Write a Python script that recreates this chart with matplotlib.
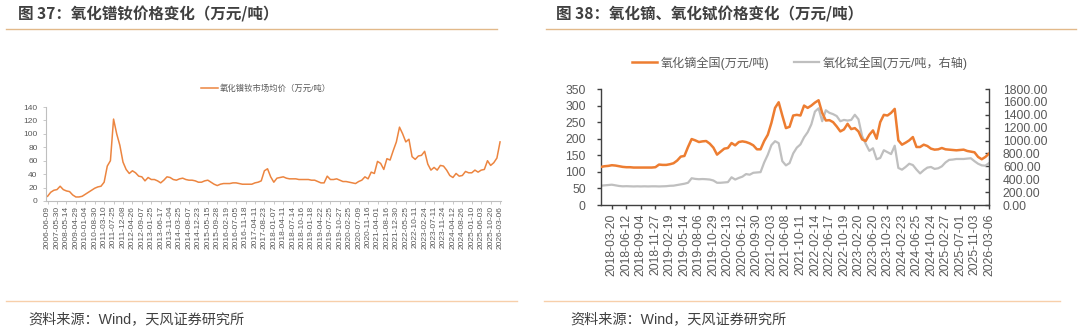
import matplotlib
matplotlib.use("Agg")
import matplotlib.pyplot as plt
from matplotlib.lines import Line2D
from matplotlib.ticker import FormatStrFormatter, MultipleLocator

plt.rcParams['font.family'] = ['Liberation Sans', 'Noto Sans CJK SC', 'DejaVu Sans']

# ---------------- Data: chart 37 (PrNd oxide) ----------------
prnd_labels = ["2006-06-09", "2007-05-30", "2008-05-14", "2009-04-29", "2010-01-04", "2010-08-30",
               "2011-03-10", "2011-07-25", "2011-12-08", "2012-04-26", "2012-09-07", "2013-01-25",
               "2013-06-17", "2013-11-04", "2014-03-25", "2014-08-07", "2014-12-23", "2015-05-15",
               "2015-09-28", "2016-02-19", "2016-07-05", "2016-11-18", "2017-04-11", "2017-08-23",
               "2018-01-07", "2018-04-11", "2018-07-14", "2018-10-16", "2019-01-18", "2019-04-22",
               "2019-07-25", "2019-10-27", "2020-02-25", "2020-07-09", "2020-11-16", "2021-04-01",
               "2021-08-16", "2021-12-30", "2022-05-25", "2022-10-11", "2023-02-24", "2023-07-11",
               "2023-11-24", "2024-04-12", "2024-08-26", "2025-01-10", "2025-06-03", "2025-10-20",
               "2026-03-06"]
prnd_price = [7, 13, 16, 17, 22, 17, 15, 14, 9, 6, 6, 7, 10, 13, 16, 19, 21, 22, 28, 52,
              60, 122, 100, 83, 58, 47, 41, 45, 42, 37, 36, 30, 35, 32, 32, 30, 27, 31, 36, 35,
              32, 31, 33, 34, 32, 31, 31, 30, 28, 28, 30, 31, 28, 25, 23, 25, 26, 26, 26, 27,
              27, 26, 25, 25, 25, 25, 27, 28, 30, 45, 48, 36, 28, 34, 35, 36, 34, 33, 33, 33,
              32, 32, 32, 32, 31, 31, 29, 27, 27, 37, 32, 32, 33, 31, 29, 29, 28, 27, 26, 29,
              31, 36, 33, 43, 41, 59, 56, 47, 63, 61, 75, 88, 110, 100, 88, 92, 66, 62, 67, 68,
              74, 55, 46, 50, 46, 53, 52, 46, 38, 35, 41, 37, 38, 44, 42, 42, 46, 43, 46, 47,
              60, 53, 57, 64, 88]
prnd_name = "氧化镨钕市场均价（万元/吨）"

# ---------------- Data: chart 38 (Dy / Tb oxide) ----------------
dytb_labels = ["2018-03-20", "2018-06-12", "2018-09-04", "2018-11-27", "2019-02-19", "2019-05-14",
               "2019-08-06", "2019-10-29", "2020-02-13", "2020-06-12", "2020-09-30", "2021-02-03",
               "2021-06-08", "2021-10-11", "2022-02-14", "2022-06-17", "2022-10-19", "2023-02-20",
               "2023-06-20", "2023-10-23", "2024-02-23", "2024-06-25", "2024-10-24", "2025-02-27",
               "2025-07-01", "2025-11-03", "2026-03-06"]
dy_price = [115, 117, 118, 120, 119, 117, 115, 114, 114, 113, 113, 113, 113, 113, 113, 114,
            122, 121, 121, 123, 126, 134, 146, 148, 175, 199, 195, 190, 192, 193, 185, 173,
            152, 161, 170, 172, 187, 180, 190, 192, 190, 186, 180, 168, 168, 193, 212, 248,
            293, 310, 270, 232, 236, 270, 272, 270, 300, 293, 300, 309, 316, 278, 255, 256,
            250, 237, 222, 228, 245, 229, 232, 222, 198, 193, 212, 225, 200, 250, 272, 270,
            278, 290, 195, 182, 188, 195, 205, 175, 175, 182, 178, 170, 167, 168, 172, 168,
            167, 166, 165, 166, 167, 163, 161, 159, 145, 138, 145, 155]
tb_price = [300, 305, 310, 315, 305, 295, 290, 292, 290, 288, 290, 288, 290, 288, 290, 290,
            288, 290, 292, 298, 300, 310, 320, 330, 345, 415, 405, 400, 403, 400, 395, 380,
            345, 345, 350, 355, 430, 395, 420, 440, 480, 470, 500, 505, 510, 660, 780, 930,
            990, 960, 680, 615, 650, 800, 890, 940, 1050, 1130, 1250, 1450, 1500, 1300, 1470, 1430,
            1410, 1380, 1300, 1320, 1310, 1320, 1400, 1330, 1070, 950, 840, 880, 710, 730, 850, 820,
            790, 920, 575, 548, 590, 640, 620, 550, 490, 540, 580, 590, 560, 570, 600, 660,
            700, 705, 714, 714, 714, 720, 725, 680, 640, 615, 610, 650]
dy_name = "氧化镝全国(万元/吨)"
tb_name = "氧化铽全国(万元/吨，右轴)"

# ---------------- Figure ----------------
W, H = 1080, 329
fig = plt.figure(figsize=(W / 100, H / 100), dpi=100)
fig.patch.set_facecolor("white")


def fx(x):
    return x / W


def fy(y):
    return 1 - y / H


ORANGE = "#ed7d31"
GRAY = "#bfbfbf"
TXT = "#404040"
TICK = "#595959"
CJK = ['Noto Sans CJK SC', 'DejaVu Sans']

# Titles and decorative lines
fig.text(fx(18), fy(14), "图 37：氧化镨钕价格变化（万元/吨）", family=CJK, fontsize=11.2,
         fontweight='bold', color=TXT, ha='left', va='center')
fig.text(fx(556), fy(14), "图 38：氧化镝、氧化铽价格变化（万元/吨）", family=CJK, fontsize=11.2,
         fontweight='bold', color=TXT, ha='left', va='center')
for x0, x1 in [(6, 497), (546, 1076)]:
    fig.add_artist(Line2D([fx(x0), fx(x1)], [fy(29), fy(29)], color="#e2b98a", lw=1.0))
for x0, x1 in [(6, 517), (544, 1060)]:
    fig.add_artist(Line2D([fx(x0), fx(x1)], [fy(301), fy(301)], color="#f7cfaa", lw=1.0))
fig.text(fx(28), fy(319), "资料来源：Wind，天风证券研究所", fontsize=10.2, color=TXT,
         ha='left', va='center')
fig.text(fx(570), fy(319), "资料来源：Wind，天风证券研究所", fontsize=10.2, color=TXT,
         ha='left', va='center')

# ---------------- Left chart ----------------
ax1 = fig.add_axes([fx(46), fy(201), fx(501) - fx(46), fy(107) - fy(201)])
x1 = list(range(len(prnd_price)))
ax1.plot(x1, prnd_price, color="#ec8540", lw=1.1)
ax1.set_ylim(0, 140)
ax1.yaxis.set_major_locator(MultipleLocator(20))
ax1.set_xlim(-0.5, len(prnd_price) - 1 + 0.3)
step1 = (len(prnd_price) - 1) // (len(prnd_labels) - 1)
ax1.set_xticks(x1[::step1])
ax1.set_xticklabels(prnd_labels, rotation=90)
for s in ['top', 'right']:
    ax1.spines[s].set_visible(False)
for s in ['left', 'bottom']:
    ax1.spines[s].set_color("#bfbfbf")
    ax1.spines[s].set_linewidth(0.8)
ax1.tick_params(axis='both', labelsize=6, colors="#bfbfbf", labelcolor=TICK, length=2, width=0.6)
ax1.tick_params(axis='x', pad=1.5)
ax1.tick_params(axis='y', pad=4)
ax1.legend([Line2D([], [], color="#ec8540", lw=1.1)], [prnd_name], loc='center left',
           bbox_to_anchor=(fx(201), fy(89)), bbox_transform=fig.transFigure, frameon=False,
           fontsize=6, handlelength=2.0, handletextpad=0.3, borderpad=0, borderaxespad=0,
           labelcolor=TICK)

# ---------------- Right chart ----------------
ax2 = fig.add_axes([fx(601), fy(205), fx(989) - fx(601), fy(89) - fy(205)])
x2 = list(range(len(dy_price)))
l_dy, = ax2.plot(x2, dy_price, color=ORANGE, lw=1.8, zorder=3)
ax3 = ax2.twinx()
l_tb, = ax3.plot(x2, tb_price, color=GRAY, lw=1.6, zorder=2)
ax2.set_zorder(ax3.get_zorder() + 1)
ax2.patch.set_visible(False)
ax2.set_ylim(0, 350)
ax2.yaxis.set_major_locator(MultipleLocator(50))
ax3.set_ylim(0, 1800)
ax3.yaxis.set_major_locator(MultipleLocator(200))
ax3.yaxis.set_major_formatter(FormatStrFormatter('%.2f'))
ax2.set_xlim(0, len(dy_price) - 1)
step2 = 4
ax2.set_xticks(x2[3::step2])
ax2.set_xticklabels(dytb_labels, rotation=90)
for a in (ax2, ax3):
    a.spines['top'].set_visible(False)
    for s in ['left', 'right', 'bottom']:
        a.spines[s].set_color("#404040")
        a.spines[s].set_linewidth(1.0)
ax2.spines['right'].set_visible(False)
ax3.spines['left'].set_visible(False)
ax3.spines['bottom'].set_visible(False)
ax2.tick_params(axis='both', labelsize=8.7, colors="#404040", labelcolor=TICK, length=3, width=1.0)
ax2.tick_params(axis='y', pad=8)
ax2.tick_params(axis='x', pad=3)
ax3.tick_params(axis='y', labelsize=8.7, colors="#404040", labelcolor=TICK, length=3, width=1.0,
                direction='in', pad=10)
ax2.legend([l_dy, l_tb], [dy_name, tb_name], loc='center left', ncol=2,
           bbox_to_anchor=(fx(632), fy(63)), bbox_transform=fig.transFigure, frameon=False,
           fontsize=8.7, handlelength=2.1, handletextpad=0.3, columnspacing=2.0, borderpad=0,
           borderaxespad=0, labelcolor=TICK)

fig.savefig("out.png", dpi=100, facecolor="white")
